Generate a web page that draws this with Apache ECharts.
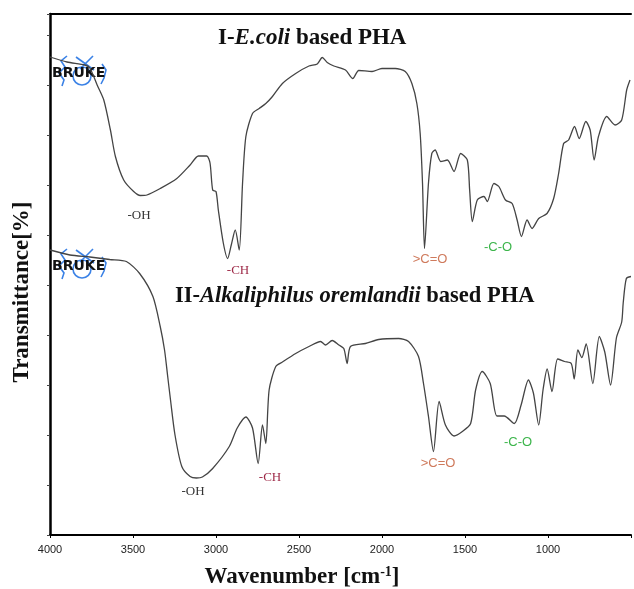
<!DOCTYPE html>
<html>
<head>
<meta charset="utf-8">
<script src="https://cdn.jsdelivr.net/npm/echarts@6/dist/echarts.min.js"></script>
<style>
  html, body { margin: 0; padding: 0; background: #fff; }
  #chart { width: 634px; height: 589px; }
</style>
</head>
<body>
<div id="chart"></div>
<script>
// 谱线数据（波数 cm-1 / 透过率）
var wnI = [4000, 3898, 3790, 3760, 3716, 3676, 3636, 3606, 3556, 3496, 3456, 3416, 3336, 3236, 3156, 3106, 3056, 3036, 3020, 3000,
  2986, 2956, 2930, 2908, 2884, 2860, 2840, 2820, 2780, 2740, 2700, 2660, 2600, 2520, 2440, 2390, 2360, 2330, 2290, 2220,
  2176, 2140, 2060, 2000, 1920, 1860, 1820, 1790, 1770, 1756, 1744, 1720, 1700, 1680, 1646, 1606, 1566, 1526, 1486, 1472,
  1456, 1426, 1386, 1366, 1326, 1296, 1256, 1216, 1186, 1160, 1126, 1096, 1056, 1006, 966, 936, 906, 876, 840, 812,
  772, 746, 722, 696, 646, 596, 556, 526, 506]
var tI = [95.6, 94.6, 94.0, 93.4, 90.0, 87.0, 81.0, 75.7, 71.0, 68.7, 67.9, 68.0, 69.3, 71.3, 74.0, 75.8, 75.8, 74.4, 69.0, 68.7,
  65.0, 58.4, 55.3, 58.0, 61.0, 57.0, 70.4, 79.7, 84.3, 85.3, 86.3, 87.7, 90.3, 92.3, 93.8, 94.2, 95.5, 94.5, 93.8, 93.0,
  91.3, 92.9, 92.7, 93.3, 93.3, 92.7, 90.3, 86.3, 80.3, 70.4, 57.3, 70.4, 76.3, 77.0, 74.7, 75.0, 72.7, 76.3, 75.0, 69.0,
  62.7, 67.0, 67.7, 66.7, 70.3, 69.7, 67.0, 66.3, 63.0, 59.7, 63.0, 61.3, 63.3, 64.3, 67.3, 72.3, 78.3, 79.0, 81.7, 79.3,
  82.7, 81.0, 75.0, 79.7, 83.7, 82.0, 83.0, 89.0, 91.0]

var wnII = [4000, 3880, 3760, 3640, 3540, 3460, 3380, 3336, 3310, 3292, 3274, 3247, 3206, 3156, 3118, 3082, 3020, 2920, 2872, 2820,
  2780, 2746, 2720, 2700, 2680, 2640, 2600, 2520, 2440, 2370, 2340, 2300, 2260, 2230, 2210, 2190, 2100, 2020, 1900, 1840,
  1780, 1750, 1720, 1690, 1656, 1618, 1566, 1516, 1466, 1436, 1396, 1348, 1308, 1264, 1203, 1162, 1118, 1088, 1056, 1030,
  1005, 976, 942, 900, 860, 842, 820, 796, 770, 730, 691, 658, 623, 588, 556, 547, 528, 500]
var tII = [57.0, 56.0, 55.6, 55.1, 54.7, 52.3, 47.7, 41.7, 37.0, 32.0, 27.0, 20.0, 13.7, 11.7, 11.4, 11.6, 13.3, 17.7, 21.4, 23.6,
  21.4, 14.3, 22.0, 18.3, 29.0, 33.7, 34.6, 36.3, 37.7, 38.7, 38.0, 38.9, 38.0, 37.3, 34.3, 37.7, 38.3, 39.1, 39.3, 38.7,
  35.7, 30.3, 23.7, 16.7, 26.7, 22.0, 19.8, 20.7, 22.3, 29.0, 32.7, 30.3, 23.8, 23.8, 22.3, 26.0, 31.0, 28.4, 22.0, 29.0,
  33.2, 28.7, 35.2, 34.7, 34.3, 31.2, 37.0, 35.5, 38.2, 30.3, 39.7, 36.6, 30.0, 39.4, 42.6, 46.4, 51.3, 51.7]

var xTicks = [4000, 3500, 3000, 2500, 2000, 1500, 1000]

var serif = 'Liberation Serif'
var sans = 'Liberation Sans'
var blue = '#3b82e6'

function pairs(xs, ys) {
  return xs.map(function (x, i) { return [x, ys[i]] })
}

// 标注文字
function note(text, x, y, color, font) {
  return {
    type: 'text', x: x, y: y, z: 10,
    style: { text: text, fill: color, font: '13px "' + font + '"', align: 'center', verticalAlign: 'middle' }
  }
}

// BRUKE 水印
function logo(dy) {
  return {
    type: 'group', x: 0, y: dy, z: 5,
    children: [
      { type: 'circle', shape: { cx: 82, cy: 76, r: 9 }, style: { stroke: blue, fill: 'none', lineWidth: 1.6 } },
      { type: 'line', shape: { x1: 76, y1: 57, x2: 94, y2: 70 }, style: { stroke: blue, lineWidth: 1.6 } },
      { type: 'line', shape: { x1: 93, y1: 56, x2: 80, y2: 69 }, style: { stroke: blue, lineWidth: 1.6 } },
      { type: 'polyline', shape: { points: [[67, 56], [61, 61], [65, 67], [59, 73], [64, 80], [62, 86]] }, style: { stroke: blue, fill: 'none', lineWidth: 1.6 } },
      { type: 'polyline', shape: { points: [[102, 64], [106, 70], [104, 78], [101, 84]] }, style: { stroke: blue, fill: 'none', lineWidth: 1.6 } },
      { type: 'text', x: 52, y: 73, style: { text: 'BRUKE', fill: '#111', font: 'bold 14px "DejaVu Sans"', verticalAlign: 'middle' } }
    ]
  }
}

var chart = echarts.init(document.getElementById('chart'))

var option = {
  animation: false,
  backgroundColor: '#fff',
  grid: { left: 50, right: 1, top: 14, bottom: 54 },
  xAxis: [
    {
      type: 'value',
      inverse: true,
      min: 500,
      max: 4000,
      interval: 500,
      axisLine: { show: true, lineStyle: { color: '#000', width: 2 } },
      axisTick: { show: true, length: 3, lineStyle: { color: '#000' } },
      axisLabel: {
        margin: 9,
        color: '#222',
        fontFamily: sans,
        fontSize: 11,
        formatter: function (v) { return xTicks.indexOf(v) >= 0 ? String(v) : '' }
      },
      splitLine: { show: false }
    },
    {
      type: 'value',
      position: 'top',
      inverse: true,
      min: 500,
      max: 4000,
      axisLine: { show: true, onZero: false, lineStyle: { color: '#000', width: 2 } },
      axisTick: { show: false },
      axisLabel: { show: false },
      splitLine: { show: false }
    }
  ],
  yAxis: {
    type: 'value',
    min: 0,
    max: 104.2,
    interval: 10,
    axisLine: { show: true, lineStyle: { color: '#000', width: 2.5 } },
    axisTick: { show: true, length: 3, lineStyle: { color: '#444' } },
    axisLabel: { show: false },
    splitLine: { show: false }
  },
  series: [
    {
      name: 'I',
      type: 'line',
      data: pairs(wnI, tI),
      showSymbol: false,
      smooth: 0.25,
      lineStyle: { color: '#444', width: 1.3 }
    },
    {
      name: 'II',
      type: 'line',
      data: pairs(wnII, tII),
      showSymbol: false,
      smooth: 0.25,
      lineStyle: { color: '#444', width: 1.3 }
    }
  ],
  graphic: [
    logo(0),
    logo(193),
    {
      type: 'text', x: 218, y: 38, z: 10,
      style: {
        text: '{b|I-}{i|E.coli}{b| based PHA}',
        verticalAlign: 'middle',
        rich: {
          b: { font: 'bold 23px "' + serif + '"', fill: '#111' },
          i: { font: 'italic bold 23px "' + serif + '"', fill: '#111' }
        }
      }
    },
    {
      type: 'text', x: 175, y: 296, z: 10,
      style: {
        text: '{b|II-}{i|Alkaliphilus oremlandii}{b| based PHA}',
        verticalAlign: 'middle',
        rich: {
          b: { font: 'bold 22.5px "' + serif + '"', fill: '#111' },
          i: { font: 'italic bold 22.5px "' + serif + '"', fill: '#111' }
        }
      }
    },
    {
      type: 'text', x: 22, y: 292, rotation: Math.PI / 2, z: 10,
      style: { text: 'Transmittance[%]', font: 'bold 23px "' + serif + '"', fill: '#111', align: 'center', verticalAlign: 'middle' }
    },
    {
      type: 'text', x: 302, y: 577, z: 10,
      style: {
        text: '{b|Wavenumber [cm}{s|-1}{b|]}',
        align: 'center',
        verticalAlign: 'middle',
        rich: {
          b: { font: 'bold 23px "' + serif + '"', fill: '#111' },
          s: { font: 'bold 14px "' + serif + '"', fill: '#111', padding: [0, 0, 9, 0] }
        }
      }
    },
    note('-OH', 139, 216, '#333', serif),
    note('-CH', 238, 271, '#9e2a48', serif),
    note('>C=O', 430, 259, '#cf7a5c', sans),
    note('-C-O', 498, 247, '#3cb54b', sans),
    note('-OH', 193, 492, '#333', serif),
    note('-CH', 270, 478, '#9e2a48', serif),
    note('>C=O', 438, 463, '#cf7a5c', sans),
    note('-C-O', 518, 442, '#3cb54b', sans)
  ]
}

chart.setOption(option)
</script>
</body>
</html>
